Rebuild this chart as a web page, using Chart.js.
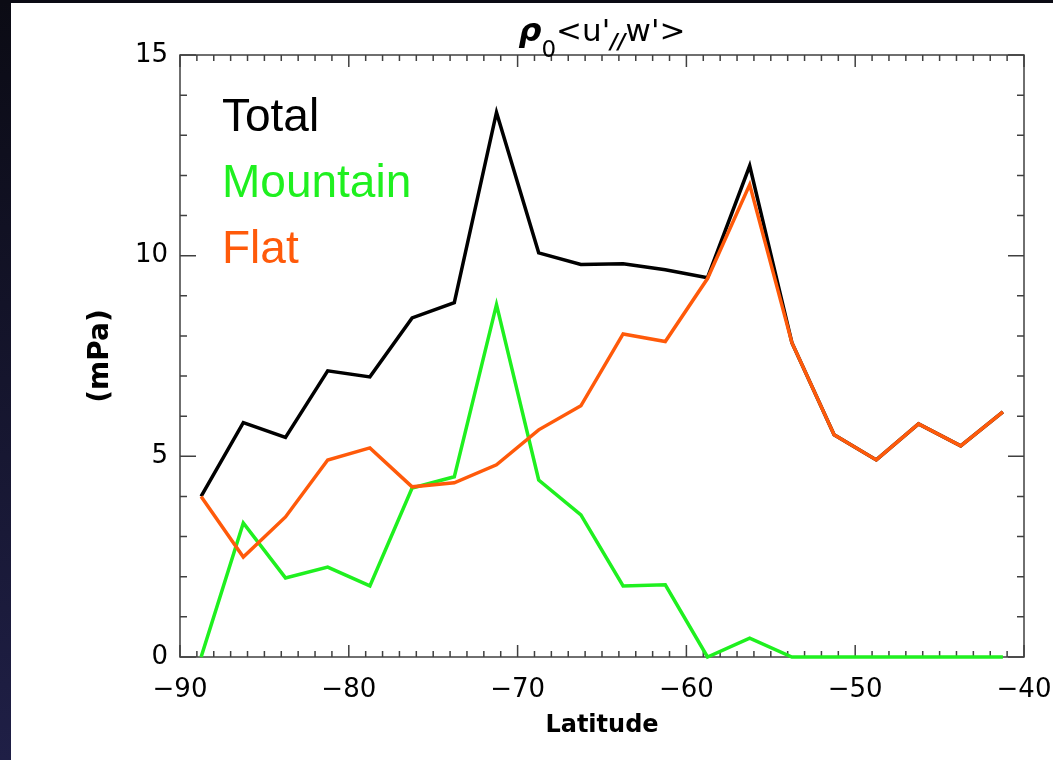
<!DOCTYPE html>
<html>
<head>
<meta charset="utf-8">
<script src="https://cdn.jsdelivr.net/npm/chart.js@4/dist/chart.umd.min.js"></script>
<style>
  body { margin: 0; background: #fff; width: 1053px; height: 760px; position: relative; overflow: hidden; }
  #edgeL { position: absolute; left: 0; top: 0; width: 11px; height: 760px; background: linear-gradient(#0b0b14, #1f1f46); }
  #edgeT { position: absolute; left: 0; top: 0; width: 1053px; height: 3px; background: #0b0b14; }
  canvas { position: absolute; left: 0; top: 0; }
</style>
</head>
<body>
<canvas id="fluxChart" width="1053" height="760"></canvas>
<div id="edgeL"></div>
<div id="edgeT"></div>
<script>
// zonal-mean momentum flux by latitude band (mPa)
const latitude = [-88.75, -86.25, -83.75, -81.25, -78.75, -76.25, -73.75, -71.25, -68.75, -66.25,
                  -63.75, -61.25, -58.75, -56.25, -53.75, -51.25, -48.75, -46.25, -43.75, -41.25];
const total    = [4.00, 5.84, 5.47, 7.13, 6.98, 8.45, 8.83, 13.57, 10.07, 9.78,
                  9.80, 9.65, 9.45, 12.24, 7.83, 5.54, 4.91, 5.81, 5.26, 6.11];
const mountain = [0.00, 3.34, 1.97, 2.24, 1.77, 4.21, 4.49, 8.78, 4.41, 3.54,
                  1.77, 1.80, 0.00, 0.47, 0.00, 0.00, 0.00, 0.00, 0.00, 0.00];
const flat     = [4.00, 2.49, 3.49, 4.91, 5.21, 4.24, 4.34, 4.79, 5.66, 6.26,
                  8.05, 7.86, 9.43, 11.77, 7.83, 5.54, 4.91, 5.81, 5.26, 6.11];
const seriesNames = ['Total', 'Mountain', 'Flat'];
const xTicks = [-90, -80, -70, -60, -50, -40];
const yTicks = [0, 5, 10, 15];

const AXIS_FONT = '"DejaVu Sans", sans-serif';
const pts = (ys) => latitude.map((x, i) => ({ x, y: ys[i] }));

// box with inward ticks on all four sides (IDL style)
const frame = {
  id: 'frame',
  beforeDatasetsDraw(chart) {
    const { ctx, chartArea: a, scales: { x, y } } = chart;
    ctx.save();
    ctx.strokeStyle = '#404040';
    ctx.lineWidth = 1.5;
    ctx.strokeRect(a.left, a.top, a.right - a.left, a.bottom - a.top);
    ctx.beginPath();
    for (let v = x.min; v <= x.max; v++) {
      const px = x.getPixelForValue(v);
      const len = v % 10 === 0 ? 12 : 6;
      ctx.moveTo(px, a.bottom); ctx.lineTo(px, a.bottom - len);
      ctx.moveTo(px, a.top); ctx.lineTo(px, a.top + len);
    }
    for (let v = y.min; v <= y.max; v++) {
      const py = y.getPixelForValue(v);
      const len = v % 5 === 0 ? 16 : 7;
      ctx.moveTo(a.left, py); ctx.lineTo(a.left + len, py);
      ctx.moveTo(a.right, py); ctx.lineTo(a.right - len, py);
    }
    ctx.stroke();
    ctx.restore();
  },
  afterDraw(chart) {
    const { ctx, chartArea: a } = chart;
    ctx.save();
    // legend as coloured words
    ctx.font = '46px "Liberation Sans", Arial, sans-serif';
    ctx.textBaseline = 'alphabetic';
    ctx.textAlign = 'left';
    chart.data.datasets.forEach((ds, i) => {
      ctx.fillStyle = ds.borderColor;
      ctx.fillText(ds.label, a.left + 42, 131 + i * 66);
    });
    // title: rho_0 <u'_// w'>
    const parts = [
      { t: '\u03C1', font: 'italic bold 32px ' + AXIS_FONT, dy: 0 },
      { t: '0', font: '23px ' + AXIS_FONT, dy: 16 },
      { t: "<u'", font: '31px ' + AXIS_FONT, dy: 0 },
      { t: '//', font: 'italic bold 21px ' + AXIS_FONT, dy: 8 },
      { t: "w'>", font: '31px ' + AXIS_FONT, dy: 0 }
    ];
    let w = 0;
    parts.forEach((p) => { ctx.font = p.font; p.w = ctx.measureText(p.t).width; w += p.w; });
    let cx = (a.left + a.right) / 2 - w / 2;
    ctx.fillStyle = '#000';
    parts.forEach((p) => { ctx.font = p.font; ctx.fillText(p.t, cx, 41 + p.dy); cx += p.w; });
    ctx.restore();
  }
};

new Chart(document.getElementById('fluxChart'), {
  type: 'line',
  data: {
    datasets: [
      { label: seriesNames[0], data: pts(total), borderColor: '#000000', borderWidth: 3.5, order: 3 },
      { label: seriesNames[1], data: pts(mountain), borderColor: '#1ff01f', borderWidth: 3.5, order: 2 },
      { label: seriesNames[2], data: pts(flat), borderColor: '#ff5a0a', borderWidth: 3.5, order: 1 }
    ]
  },
  options: {
    responsive: false,
    animation: false,
    layout: { padding: { left: 0, top: 55, right: 29, bottom: 0 } },
    elements: {
      line: { tension: 0, fill: false, borderJoinStyle: 'miter' },
      point: { radius: 0 }
    },
    datasets: { line: { clip: false } },
    plugins: { legend: { display: false }, tooltip: { enabled: false } },
    scales: {
      x: {
        type: 'linear', min: -90, max: -40,
        afterBuildTicks: (s) => { s.ticks = xTicks.map((v) => ({ value: v })); },
        afterFit: (s) => { s.height = 103; s.paddingLeft = 0; s.paddingRight = 0; },
        grid: { display: false, drawTicks: false },
        border: { display: false },
        ticks: { padding: 18, color: '#000', font: { family: AXIS_FONT, size: 26 }, maxRotation: 0,
                 callback: (v) => String(v).replace('-', '\u2212') },
        title: { display: true, text: 'Latitude', color: '#000', padding: { bottom: 20 },
                 font: { family: AXIS_FONT, size: 24, weight: 'bold' } }
      },
      y: {
        min: 0, max: 15,
        afterBuildTicks: (s) => { s.ticks = yTicks.map((v) => ({ value: v })); },
        afterFit: (s) => { s.width = 180; s.paddingTop = 0; s.paddingBottom = 0; },
        grid: { display: false, drawTicks: false },
        border: { display: false },
        ticks: { padding: 12, color: '#000', font: { family: AXIS_FONT, size: 26 } },
        title: { display: true, text: '(mPa)', color: '#000', padding: { top: 84 },
                 font: { family: AXIS_FONT, size: 28, weight: 'bold' } }
      }
    }
  },
  plugins: [frame]
});
</script>
</body>
</html>
